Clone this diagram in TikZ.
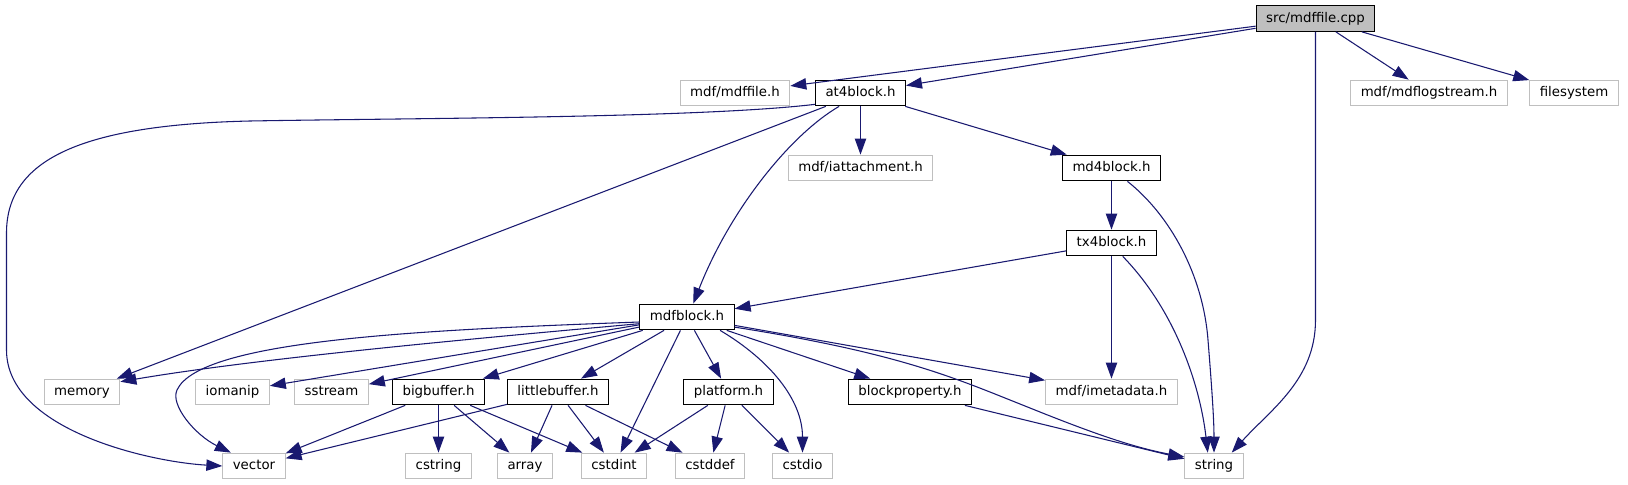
\documentclass[tikz,border=0pt]{standalone}
\usepackage{fontspec}
\setmainfont{DejaVu Sans}
\usetikzlibrary{arrows.meta}
\definecolor{edgeblue}{HTML}{191970}
\definecolor{extgray}{HTML}{BFBFBF}

\begin{document}
\begin{tikzpicture}[x=0.75pt,y=-0.75pt,line width=0.75pt,
  filenode/.style={draw=black,rectangle,inner xsep=7.5pt,inner ysep=0pt,
    minimum height=19.3pt,text height=7.4pt,text depth=2.1pt,
    font=\fontsize{10}{12}\selectfont},
  extnode/.style={filenode,draw=extgray},
  rootnode/.style={filenode,fill=extgray},
  incl/.style={draw=edgeblue,line width=0.8pt,
    -{Triangle[length=12pt,width=8.5pt]}}]
  \useasboundingbox (0,0) rectangle (1628,485);

  \node[rootnode] (cpp) at (1315.5,18.5) {src/mdffile.cpp};

  \node[extnode]  (mdffileh) at (735,93) {mdf/mdffile.h};
  \node[filenode] (at4) at (860.5,93) {at4block.h};
  \node[extnode]  (logst) at (1429,93) {mdf/mdflogstream.h};
  \node[extnode]  (fsys) at (1574,93) {filesystem};

  \node[extnode]  (iatt) at (860.5,168) {mdf/iattachment.h};
  \node[filenode] (md4) at (1111.5,168) {md4block.h};
  \node[filenode] (tx4) at (1111.5,243) {tx4block.h};
  \node[filenode] (mdfblk) at (687,317) {mdfblock.h};

  \node[extnode]  (memory) at (82,392) {memory};
  \node[extnode]  (iomanip) at (232.5,392) {iomanip};
  \node[extnode]  (sstream) at (331.5,392) {sstream};
  \node[filenode] (bigbuf) at (438.5,392) {bigbuffer.h};
  \node[filenode] (littlebuf) at (558,392) {littlebuffer.h};
  \node[filenode] (platform) at (728.5,392) {platform.h};
  \node[filenode] (blockprop) at (910,392) {blockproperty.h};
  \node[extnode]  (imeta) at (1111.5,392) {mdf/imetadata.h};

  \node[extnode] (vector) at (254,466) {vector};
  \node[extnode] (cstring) at (438.5,466) {cstring};
  \node[extnode] (array) at (525,466) {array};
  \node[extnode] (cstdint) at (614,466) {cstdint};
  \node[extnode] (cstddef) at (710,466) {cstddef};
  \node[extnode] (cstdio) at (802.5,466) {cstdio};
  \node[extnode] (str) at (1214,466) {string};

  \draw[incl] (cpp) -- (mdffileh);
  \draw[incl] (cpp) -- (at4);
  \draw[incl] (cpp) -- (logst);
  \draw[incl] (cpp) -- (fsys);
  \draw[incl] (cpp.south) -- (1315.5,320) .. controls (1315.5,380) and (1270,410) .. (str.37);

  \draw[incl] (at4.194) .. controls (700,118) and (420,118) .. (250,121)
    .. controls (80,125) and (6.5,160) .. (6.5,233) -- (6.5,350)
    .. controls (6.5,430) and (150,462) .. (vector.west);
  \draw[incl] (at4) -- (memory);
  \draw[incl] (at4.212) .. controls (790,135) and (730,210) .. (mdfblk.65);
  \draw[incl] (at4) -- (iatt);
  \draw[incl] (at4) -- (md4);

  \draw[incl] (md4) -- (tx4);
  \draw[incl] (md4.320) .. controls (1170,215) and (1203,275) .. (1208,340)
    .. controls (1212,390) and (1214,420) .. (str.north);

  \draw[incl] (tx4) -- (mdfblk);
  \draw[incl] (tx4) -- (imeta);
  \draw[incl] (tx4.310) .. controls (1175,310) and (1200,385) .. (str.115);

  \draw[incl] (mdfblk.188) .. controls (480,338) and (260,358) .. (memory.15);
  \draw[incl] (mdfblk.186) .. controls (420,330) and (200,340) .. (177,390)
    .. controls (170,405) and (195,435) .. (vector.150);
  \draw[incl] (mdfblk) -- (iomanip);
  \draw[incl] (mdfblk) -- (sstream);
  \draw[incl] (mdfblk) -- (bigbuf);
  \draw[incl] (mdfblk) -- (littlebuf);
  \draw[incl] (mdfblk) -- (cstdint);
  \draw[incl] (mdfblk) -- (platform);
  \draw[incl] (mdfblk.-22) .. controls (770,360) and (802.5,400) .. (cstdio.north);
  \draw[incl] (mdfblk) -- (blockprop);
  \draw[incl] (mdfblk) -- (imeta);
  \draw[incl] (mdfblk.-12) .. controls (880,350) and (940,372) .. (1000,396)
    .. controls (1060,420) and (1120,445) .. (str.163);

  \draw[incl] (bigbuf) -- (vector);
  \draw[incl] (bigbuf) -- (cstring);
  \draw[incl] (bigbuf) -- (array);
  \draw[incl] (bigbuf) -- (cstdint);

  \draw[incl] (littlebuf) -- (vector);
  \draw[incl] (littlebuf) -- (array);
  \draw[incl] (littlebuf) -- (cstdint);
  \draw[incl] (littlebuf) -- (cstddef);

  \draw[incl] (platform) -- (cstdint);
  \draw[incl] (platform) -- (cstddef);
  \draw[incl] (platform) -- (cstdio);

  \draw[incl] (blockprop) -- (str);
\end{tikzpicture}
\end{document}
